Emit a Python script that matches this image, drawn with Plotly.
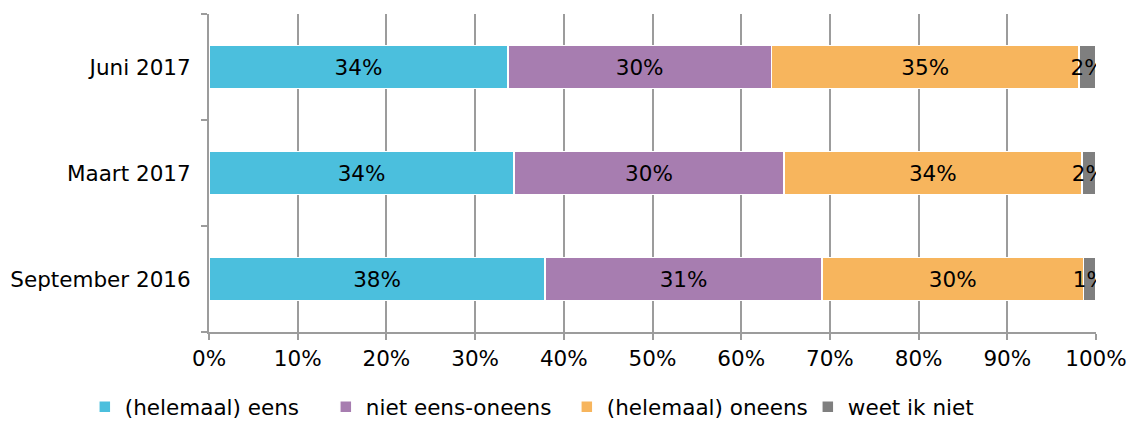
import plotly.graph_objects as go

# categories bottom-to-top as plotly draws them
periods = ["September 2016", "Maart 2017", "Juni 2017"]

eens = [37.9, 34.4, 33.7]
neutraal = [31.2, 30.4, 29.7]
oneens = [29.5, 33.6, 34.7]
weet_niet = [1.4, 1.6, 1.9]

series = [
    ("(helemaal) eens", eens, "#4BBFDD"),
    ("niet eens-oneens", neutraal, "#A77DB0"),
    ("(helemaal) oneens", oneens, "#F7B55D"),
    ("weet ik niet", weet_niet, "#7F7F7F"),
]

FONT = "DejaVu Sans, Verdana, sans-serif"
FS = 21.5

fig = go.Figure()
for name, vals, color in series:
    fig.add_trace(go.Bar(
        y=periods, x=[v / 100 for v in vals], name=name, orientation="h",
        marker=dict(color=color, line=dict(color="white", width=1.5)),
        text=[f"{round(v):.0f}%" for v in vals],
        textposition="inside", insidetextanchor="middle", constraintext="none",
        textangle=0, textfont=dict(color="black", size=FS, family=FONT),
        hoverinfo="skip",
    ))

fig.update_layout(
    barmode="stack", bargap=0.59,
    width=1132, height=421,
    margin=dict(l=209, r=36, t=14, b=89, autoexpand=False),
    plot_bgcolor="white", paper_bgcolor="white",
    font=dict(family=FONT, size=FS, color="black"),
    # x < 0 (left of plot area) lets the horizontal legend use the full width
    legend=dict(orientation="h", x=-0.14, xanchor="left",
                y=-0.235, yanchor="middle", traceorder="normal",
                font=dict(size=FS), itemwidth=30, entrywidth=196),
)
fig.update_xaxes(range=[0, 1], dtick=0.1, tickformat=".0%",
                 showgrid=True, gridcolor="#9C9C9C", gridwidth=2, zeroline=False,
                 showline=True, linecolor="#9C9C9C", linewidth=2,
                 ticks="outside", ticklen=6, tickcolor="#9C9C9C", tickwidth=2)
fig.update_yaxes(showgrid=False, showline=True, linecolor="#9C9C9C", linewidth=2,
                 ticks="outside", ticklen=6, tickcolor="#9C9C9C", tickwidth=2,
                 tickson="boundaries", ticklabelstandoff=12)

# drop the default page margin so the chart sits at the window's top-left
fig.write_html("out.html", config={"displayModeBar": False},
               post_script="document.body.style.margin='0';")
